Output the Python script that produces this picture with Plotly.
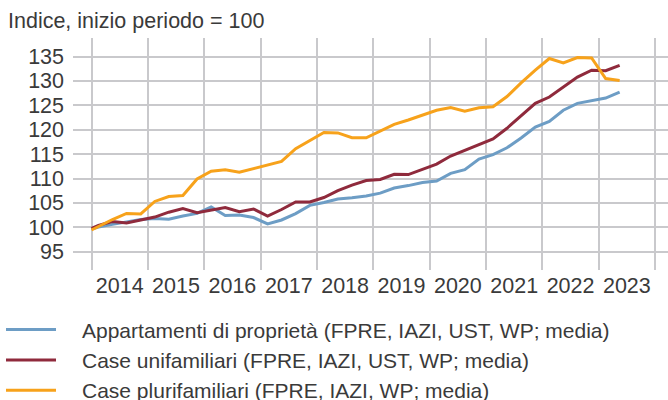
import pandas as pd
import plotly.graph_objects as go

# Index values, start of period = 100; first entry is the base date, then quarterly readings
base_date = "2014-01-01"
quarters = pd.period_range("2014Q1", "2023Q2", freq="Q")

appartamenti = [99.65,
                100.05, 100.6, 101.15, 101.6, 101.8, 101.65, 102.3, 102.85, 104.15, 102.4,
                102.5, 102.0, 100.7, 101.5, 102.8, 104.5, 105.1, 105.8, 106.05, 106.4,
                107.0, 108.05, 108.55, 109.2, 109.5, 111.05, 111.8, 114.0, 114.9, 116.3,
                118.3, 120.55, 121.7, 124.0, 125.4, 125.9, 126.5, 127.7]
unifamiliari = [99.8,
                100.4, 101.2, 100.9, 101.5, 102.1, 103.1, 103.85, 103.0, 103.5, 104.05,
                103.2, 103.75, 102.3, 103.65, 105.2, 105.2, 106.1, 107.5, 108.65, 109.6,
                109.8, 110.85, 110.8, 111.9, 112.95, 114.6, 115.8, 116.85, 118.1, 120.3,
                122.8, 125.4, 126.7, 128.8, 130.8, 132.2, 132.1, 133.2]
plurifamiliari = [99.45,
                  100.15, 101.6, 102.85, 102.75, 105.3, 106.3, 106.5, 109.9, 111.5, 111.8,
                  111.3, 112.0, 112.75, 113.5, 116.1, 117.7, 119.45, 119.35, 118.35, 118.35,
                  119.8, 121.1, 122.0, 123.0, 124.0, 124.55, 123.8, 124.5, 124.7, 126.8,
                  129.6, 132.2, 134.6, 133.7, 134.8, 134.7, 130.5, 130.1]

series_names = [
    "Appartamenti di proprietà (FPRE, IAZI, UST, WP; media)",
    "Case unifamiliari (FPRE, IAZI, UST, WP; media)",
    "Case plurifamiliari (FPRE, IAZI, WP; media)",
]
series_colors = ["#6d9dc5", "#8f2a3c", "#f7a21b"]
y_ticks = [95, 100, 105, 110, 115, 120, 125, 130, 135]

# quarterly readings are placed at the middle of each quarter
mid_dates = [p.start_time + (p.end_time - p.start_time) / 2 for p in quarters]
x_dates = [pd.Timestamp(base_date)] + mid_dates

FONT = "Liberation Sans"
TEXT = "#3a3a3a"
GRID = "#c9c9cc"

fig = go.Figure()
for name, vals, col in zip(series_names, [appartamenti, unifamiliari, plurifamiliari], series_colors):
    fig.add_trace(go.Scatter(x=x_dates, y=vals, name="\u2003" + name, mode="lines",
                             line=dict(color=col, width=3)))

fig.update_layout(
    width=668, height=400,
    margin=dict(l=73, r=0, t=38, b=130, autoexpand=False),
    paper_bgcolor="white", plot_bgcolor="white",
    font=dict(family=FONT, size=21, color=TEXT),
    title=dict(text="Indice, inizio periodo = 100", x=8 / 668, xanchor="left",
               y=1 - 20.5 / 400, yanchor="middle", yref="container",
               font=dict(family=FONT, size=21.5, color=TEXT)),
    showlegend=True,
    legend=dict(orientation="v", x=-0.121, y=-0.17, xanchor="left", yanchor="top",
                font=dict(family=FONT, size=21, color=TEXT), itemwidth=50,
                bgcolor="rgba(0,0,0,0)", tracegroupgap=0),
    xaxis=dict(type="date", range=["2013-09-03", "2024-03-25"],
               dtick="M12", tick0="2014-01-01", tickformat="%Y",
               ticklabelmode="period", ticks="", showgrid=True,
               gridcolor=GRID, gridwidth=1.5, zeroline=False, showline=False,
               ticklabelstandoff=0,
               tickfont=dict(family=FONT, size=21.5, color=TEXT)),
    yaxis=dict(range=[91.25, 138.8], tickvals=y_ticks, ticks="",
               showgrid=True, gridcolor=GRID, gridwidth=1.5, zeroline=False,
               showline=False, ticklabelstandoff=8,
               tickfont=dict(family=FONT, size=21.5, color=TEXT)),
)

fig.write_html("out.html")
